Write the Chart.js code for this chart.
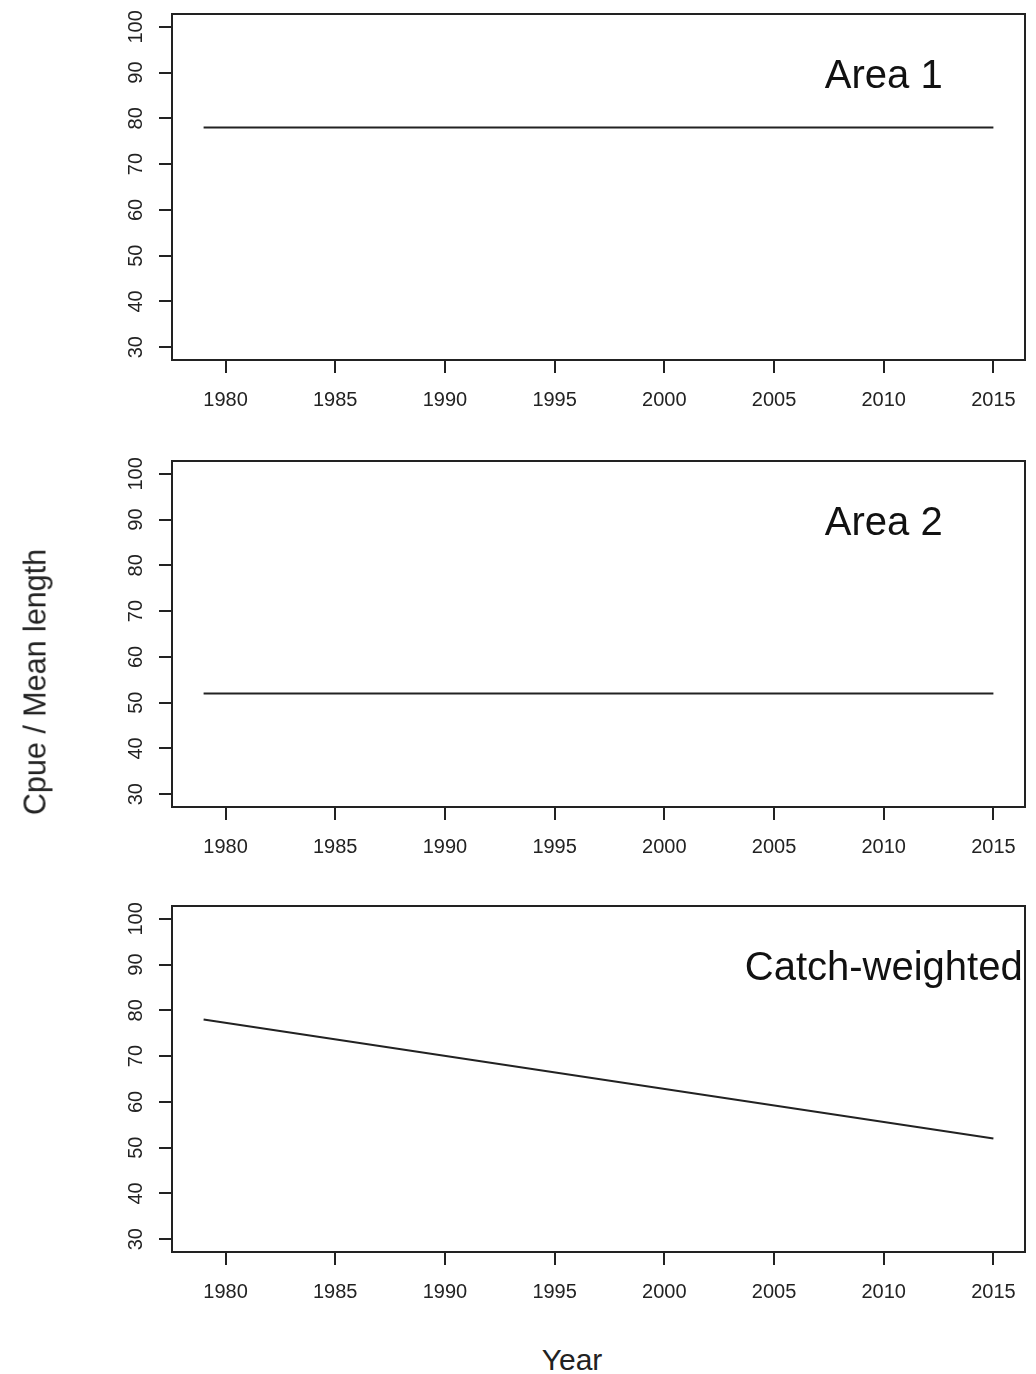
<!DOCTYPE html>
<html>
<head>
<meta charset="utf-8">
<script src="https://cdn.jsdelivr.net/npm/chart.js@4/dist/chart.umd.min.js"></script>
<style>
  html, body { margin: 0; padding: 0; background: #fff; }
  #page { position: relative; width: 1036px; height: 1374px; overflow: hidden; background: #fff; }
  canvas { position: absolute; left: 0; }
  .ytitle {
    position: absolute; left: 35px; top: 682px;
    transform: translate(-50%, -50%) rotate(-90deg);
    font-family: "Liberation Sans", Arial, sans-serif; font-size: 30.5px; color: #222; white-space: nowrap;
  }
  .xtitle {
    position: absolute; left: 572px; top: 1360px;
    transform: translate(-50%, -50%);
    font-family: "Liberation Sans", Arial, sans-serif; font-size: 30px; color: #222; white-space: nowrap;
  }
</style>
</head>
<body>
<div id="page">
  <canvas id="c1" width="1036" height="420" style="top:0px"></canvas>
  <canvas id="c2" width="1036" height="420" style="top:447px"></canvas>
  <canvas id="c3" width="1036" height="420" style="top:892px"></canvas>
  <div class="ytitle">Cpue / Mean length</div>
  <div class="xtitle">Year</div>
</div>
<script>
// ---- data ----
const years = [1979, 2015];
const area1 = [78, 78];
const area2 = [52, 52];
const catchWeighted = [78, 52];
const panelTitles = ['Area 1', 'Area 2', 'Catch-weighted'];
const xTickValues = [1980, 1985, 1990, 1995, 2000, 2005, 2010, 2015];
const xTickLabels = ['1980', '1985', '1990', '1995', '2000', '2005', '2010', '2015'];
const yTickValues = [30, 40, 50, 60, 70, 80, 90, 100];
const yTickLabels = ['30', '40', '50', '60', '70', '80', '90', '100'];
const titlePos = { x: 2010, y: 89 };
const xRange = [1977.56, 2016.44];
const yRange = [27.2, 102.8];

const FONT = '"Liberation Sans", Arial, sans-serif';
const INK = '#222';

const panelPlugin = {
  id: 'panelPlugin',
  afterDraw(chart, args, opts) {
    const ctx = chart.ctx;
    const a = chart.chartArea;
    const xs = chart.scales.x, ys = chart.scales.y;
    ctx.save();
    // box
    ctx.strokeStyle = INK;
    ctx.lineWidth = 2;
    ctx.strokeRect(a.left, a.top, a.right - a.left, a.bottom - a.top);
    // rotated y tick labels
    ctx.fillStyle = INK;
    ctx.font = '20px ' + FONT;
    ctx.textAlign = 'center';
    ctx.textBaseline = 'middle';
    yTickValues.forEach((v, i) => {
      const py = ys.getPixelForValue(v);
      ctx.save();
      ctx.translate(136, py);
      ctx.rotate(-Math.PI / 2);
      ctx.fillText(yTickLabels[i], 0, 0);
      ctx.restore();
    });
    // panel title, clipped to plot region
    ctx.beginPath();
    ctx.rect(a.left, a.top, a.right - a.left, a.bottom - a.top);
    ctx.clip();
    ctx.font = '40px ' + FONT;
    ctx.fillStyle = '#111';
    ctx.textAlign = 'center';
    ctx.textBaseline = 'middle';
    ctx.fillText(opts.title, xs.getPixelForValue(titlePos.x), ys.getPixelForValue(titlePos.y));
    ctx.restore();
  }
};

function makePanel(id, values, title) {
  return new Chart(document.getElementById(id), {
    type: 'line',
    data: {
      datasets: [{
        data: years.map((y, i) => ({ x: y, y: values[i] })),
        borderColor: INK,
        borderWidth: 2,
        pointRadius: 0,
        tension: 0,
        fill: false
      }]
    },
    options: {
      responsive: false,
      maintainAspectRatio: false,
      animation: false,
      layout: { padding: { top: 14, right: 11, bottom: 0, left: 0 } },
      plugins: {
        legend: { display: false },
        tooltip: { enabled: false },
        panelPlugin: { title: title }
      },
      scales: {
        x: {
          type: 'linear',
          min: xRange[0], max: xRange[1],
          afterBuildTicks: s => { s.ticks = xTickValues.map(v => ({ value: v })); },
          afterFit: s => { s.height = 60; },
          grid: { display: true, drawOnChartArea: false, drawTicks: true, tickLength: 13, color: INK, lineWidth: 2 },
          border: { display: false },
          ticks: {
            autoSkip: false, maxRotation: 0, minRotation: 0, padding: 15,
            color: INK, font: { family: FONT, size: 20 },
            callback: (v) => { const i = xTickValues.indexOf(v); return i >= 0 ? xTickLabels[i] : ''; }
          }
        },
        y: {
          type: 'linear',
          min: yRange[0], max: yRange[1],
          afterBuildTicks: s => { s.ticks = yTickValues.map(v => ({ value: v })); },
          afterFit: s => { s.width = 172; },
          grid: { display: true, drawOnChartArea: false, drawTicks: true, tickLength: 13, color: INK, lineWidth: 2 },
          border: { display: false },
          ticks: { display: false }
        }
      }
    },
    plugins: [panelPlugin]
  });
}

makePanel('c1', area1, panelTitles[0]);
makePanel('c2', area2, panelTitles[1]);
makePanel('c3', catchWeighted, panelTitles[2]);
</script>
</body>
</html>
